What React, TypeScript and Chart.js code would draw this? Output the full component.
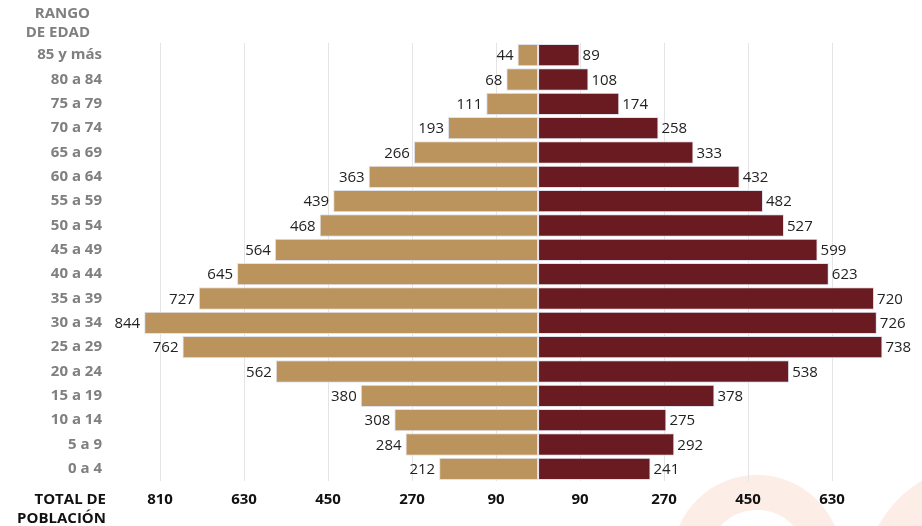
import React, { useEffect, useRef } from "react";
import { Chart, registerables } from "chart.js";

Chart.register(...registerables);

const categories = [
  "85 y más", "80 a 84", "75 a 79", "70 a 74", "65 a 69", "60 a 64",
  "55 a 59", "50 a 54", "45 a 49", "40 a 44", "35 a 39", "30 a 34",
  "25 a 29", "20 a 24", "15 a 19", "10 a 14", "5 a 9", "0 a 4",
];
const leftValues = [44, 68, 111, 193, 266, 363, 439, 468, 564, 645, 727, 844, 762, 562, 380, 308, 284, 212];
const rightValues = [89, 108, 174, 258, 333, 432, 482, 527, 599, 623, 720, 726, 738, 538, 378, 275, 292, 241];
const tickValues = [-810, -630, -450, -270, -90, 90, 270, 450, 630];

const FONT = "'Open Sans', 'Noto Sans', sans-serif";

const decorPlugin = {
  id: "decor",
  beforeDraw(chart: any) {
    const ctx = chart.ctx;
    ctx.save();
    ctx.strokeStyle = "#FCEDE6";
    ctx.lineWidth = 35;
    ctx.beginPath();
    ctx.arc(757, 560, 67.5, 0, Math.PI * 2);
    ctx.stroke();
    ctx.lineWidth = 42;
    ctx.beginPath();
    ctx.arc(985, 585, 101, 0, Math.PI * 2);
    ctx.stroke();
    ctx.restore();
  },
  afterDraw(chart: any) {
    const ctx = chart.ctx;
    ctx.save();
    ctx.font = `bold 15px ${FONT}`;
    ctx.textAlign = "right";
    ctx.textBaseline = "middle";
    ctx.fillStyle = "#7f7f7f";
    ctx.fillText("RANGO", 90, 14);
    ctx.fillText("DE EDAD", 90, 33);
    ctx.fillStyle = "#111111";
    ctx.fillText("TOTAL DE", 106, 500);
    ctx.fillText("POBLACIÓN", 106, 519);

    ctx.font = `15px ${FONT}`;
    ctx.fillStyle = "#222222";
    chart.data.datasets.forEach((ds: any, di: number) => {
      const meta = chart.getDatasetMeta(di);
      meta.data.forEach((bar: any, i: number) => {
        const v = Math.abs(ds.data[i]);
        if (di === 0) {
          ctx.textAlign = "right";
          ctx.fillText(String(v), bar.x - 4, bar.y + 1);
        } else {
          ctx.textAlign = "left";
          ctx.fillText(String(v), bar.x + 3, bar.y + 1);
        }
      });
    });
    ctx.restore();
  },
};

export default function App() {
  const ref = useRef<HTMLCanvasElement | null>(null);
  useEffect(() => {
    document.body.style.margin = "0";
    if (!ref.current) return;
    const chart = new Chart(ref.current, {
      type: "bar",
      data: {
        labels: categories,
        datasets: [
          {
            label: "Hombres",
            data: leftValues.map((v) => -v),
            backgroundColor: "#BB935C",
            borderColor: "#dfe3ee",
            borderWidth: 1,
            borderSkipped: false,
            categoryPercentage: 1,
            barPercentage: 0.92,
          },
          {
            label: "Mujeres",
            data: rightValues,
            backgroundColor: "#6A1B21",
            borderColor: "#dfe3ee",
            borderWidth: 1,
            borderSkipped: false,
            categoryPercentage: 1,
            barPercentage: 0.92,
          },
        ],
      },
      options: {
        indexAxis: "y",
        animation: false,
        responsive: true,
        maintainAspectRatio: false,
        layout: { padding: { top: 43, right: 12, left: 0, bottom: 0 } },
        plugins: {
          legend: { display: false },
          tooltip: { enabled: false },
        },
        scales: {
          x: {
            stacked: true,
            min: -913,
            max: 797,
            afterBuildTicks(scale: any) {
              scale.ticks = tickValues.map((v) => ({ value: v }));
            },
            afterFit(scale: any) {
              scale.height = 45;
            },
            ticks: {
              callback: (v: any) => String(Math.abs(Number(v))),
              font: { family: FONT, size: 15, weight: "bold" },
              color: "#111111",
              padding: 10,
              maxRotation: 0,
              autoSkip: false,
            },
            grid: { color: "#e4e4e4", drawTicks: false, lineWidth: 1 },
            border: { display: false },
          },
          y: {
            stacked: true,
            afterFit(scale: any) {
              scale.width = 112;
            },
            ticks: {
              font: { family: FONT, size: 15, weight: "bold" },
              color: "#7f7f7f",
              padding: 10,
              autoSkip: false,
            },
            grid: { display: false, drawTicks: false },
            border: { display: false },
          },
        },
      },
      plugins: [decorPlugin],
    } as any);
    return () => chart.destroy();
  }, []);
  return (
    <div style={{ position: "relative", width: 922, height: 526 }}>
      <canvas ref={ref} />
    </div>
  );
}
